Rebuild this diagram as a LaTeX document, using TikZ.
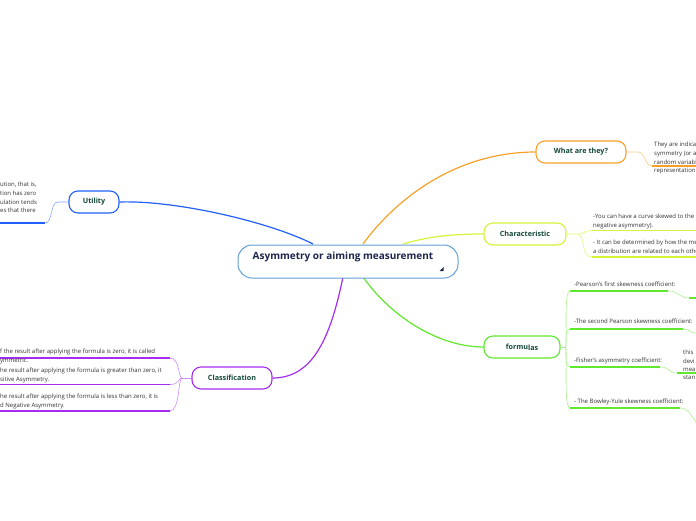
\documentclass[tikz,border=0pt]{standalone}
\usepackage{fontspec}
\setmainfont{Open Sans}
\definecolor{cblue}{RGB}{35,95,250}
\definecolor{corange}{RGB}{247,160,40}
\definecolor{cyellow}{RGB}{215,242,55}
\definecolor{cgreen}{RGB}{95,232,45}
\definecolor{cpurple}{RGB}{165,45,240}
\definecolor{ccentral}{RGB}{95,160,215}
\definecolor{labelc}{RGB}{20,72,58}
\definecolor{centralc}{RGB}{28,38,75}
\definecolor{bodyc}{RGB}{50,50,50}
\begin{document}
\begin{tikzpicture}[x=1pt,y=-1pt,
  topic/.style={rounded corners=9pt, line width=1.1pt, fill=white, inner sep=0pt,
    minimum height=22pt, font=\bfseries\fontsize{7.2}{8}\selectfont, text=labelc},
  txt/.style={font=\fontsize{6}{8.6}\selectfont, text=bodyc, align=left, anchor=north west, inner sep=0pt},
  thinline/.style={line width=0.6pt},
  thickline/.style={line width=1.6pt},
  mainline/.style={line width=1.2pt}]
\useasboundingbox (0,0) rectangle (696,520);
\clip (0,0) rectangle (696,520);

% ---------- connector start points on the central node
\coordinate (sB) at (313,244);
\coordinate (sO) at (363,244);
\coordinate (sY) at (403,244);
\coordinate (sG) at (363,277);
\coordinate (sP) at (343,277);

% ---------- topic nodes
\node[topic, draw=cblue, minimum width=50pt] (util) at (94,202) {Utility};
\node[topic, draw=corange, minimum width=90pt] (what) at (581,152) {What are they?};
\node[topic, draw=cyellow, minimum width=82pt] (char) at (525,234) {Characteristic};
\node[topic, draw=cgreen, minimum width=76pt] (form) at (522,347) {formu\raisebox{-1.2pt}{las}};
\node[topic, draw=cpurple, minimum width=80pt] (clas) at (232,378) {Classification};

\draw[mainline, cblue] (sB) .. controls (270,222) and (175,200) .. (util.east);
\draw[mainline, corange] (sO) .. controls (395,200) and (455,152) .. (what.west);
\draw[mainline, cyellow] (sY) .. controls (430,236) and (455,234) .. (char.west);
\draw[mainline, cgreen] (sG) .. controls (392,318) and (440,347) .. (form.west);
\draw[mainline, cpurple] (sP) .. controls (330,340) and (312,378) .. (clas.east);

% ---------- central node
\node[draw=ccentral, line width=1pt, fill=white, rounded corners=14pt,
  minimum width=220pt, minimum height=33pt, inner sep=0pt] (center) at (348,261.5) {};
\node[font=\bfseries\fontsize{10}{12}\selectfont, text=centralc, inner sep=0pt] (ctitle) at (343,256.5) {Asymmetry or aiming measurement};
\fill[centralc] (439.5,271) -- (443.5,271) -- (443.5,267) -- cycle;

% ---------- Utility details
\coordinate (u1) at (58,202);
\coordinate (u2) at (45,223);
\coordinate (u3) at (0,223);
\draw[thinline, cblue!55] (util.west) -- (u1) .. controls (50,202) and (53,223) .. (u2);
\draw[thickline, cblue] (u2) -- (u3);
\node[txt] (utxt) at (0,182.2) {ution, that is,\\tion has zero\\ulation tends\\es that there};

% ---------- What are they details
\coordinate (w1) at (638,152);
\coordinate (w2) at (652,166);
\coordinate (w3) at (696,166);
\draw[thinline, corange!55] (what.east) -- (w1) .. controls (646,152) and (644,166) .. (w2);
\draw[thickline, corange] (w2) -- (w3);
\node[txt] (wtxt) at (654,142.2) {They are indica\\symmetry (or a\\random variabl\\representation};

% ---------- Characteristic details
\coordinate (c0) at (578,234);
\coordinate (c1) at (592,230.5);
\coordinate (c1e) at (696,230.5);
\coordinate (c2) at (592,257);
\coordinate (c2e) at (696,257);
\draw[thinline, cyellow!70] (char.east) -- (c0) .. controls (584,234) and (585,230.5) .. (c1);
\draw[thinline, cyellow!70] (c0) .. controls (586,236) and (580,257) .. (c2);
\draw[thickline, cyellow] (c1) -- (c1e);
\draw[thickline, cyellow] (c2) -- (c2e);
\node[txt] (ctxt1) at (593,213.9) {-You can have a curve skewed to the\\negative asymmetry).};
\node[txt] (ctxt2) at (593,240.2) {- It can be determined by how the me\\a distribution are related to each othe};

% ---------- formulas details
\coordinate (f0) at (565,347);
\coordinate (fa) at (570,291);
\coordinate (fae) at (668,291);
\coordinate (faf) at (689,298);
\coordinate (fag) at (696,298);
\coordinate (fb) at (570,329);
\coordinate (fbe) at (683,329);
\coordinate (fbf) at (696,333);
\coordinate (fc) at (570,367);
\coordinate (fce) at (660,367);
\coordinate (fcf) at (677,373);
\coordinate (fcg) at (696,373);
\coordinate (fd) at (570,408);
\coordinate (fde) at (680,408);
\coordinate (fdf) at (696,422);
\draw[thinline, cgreen!55] (form.east) -- (f0);
\draw[thinline, cgreen!55] (f0) .. controls (568,347) and (563,291) .. (fa);
\draw[thinline, cgreen!55] (f0) .. controls (568,347) and (563,329) .. (fb);
\draw[thinline, cgreen!55] (f0) .. controls (568,347) and (563,367) .. (fc);
\draw[thinline, cgreen!55] (f0) .. controls (568,347) and (563,408) .. (fd);
\draw[thickline, cgreen] (fa) -- (fae);
\draw[thickline, cgreen] (fb) -- (fbe);
\draw[thickline, cgreen] (fc) -- (fce);
\draw[thickline, cgreen] (fd) -- (fde);
\draw[thinline, cgreen!55] (fae) .. controls (680,291) and (678,298) .. (faf);
\draw[thickline, cgreen] (faf) -- (fag);
\draw[thinline, cgreen!55] (fbe) .. controls (690,329) and (690,333) .. (fbf);
\draw[thinline, cgreen!55] (fce) .. controls (670,367) and (668,373) .. (fcf);
\draw[thickline, cgreen] (fcf) -- (fcg);
\draw[thinline, cgreen!55] (fde) .. controls (688,408) and (690,414) .. (fdf);
\node[txt] (ftxt1) at (574,282.2) {-Pearson's first skewness coefficient:};
\node[txt] (ftxt2) at (574,319.2) {-The second Pearson skewness coefficient:};
\node[txt] (ftxt3) at (574,358.2) {-Fisher's asymmetry coefficient:};
\node[txt] (ftxt4) at (574,399.2) {- The Bowley-Yule skewness coefficient:};
\node[txt, font=\fontsize{6}{8.3}\selectfont] (ftxt5) at (683,350.2) {this\\devi\\mea\\stan};

% ---------- Classification details
\coordinate (k0) at (182,378);
\coordinate (ka) at (170,358);
\coordinate (kb) at (170,384.5);
\coordinate (kc) at (170,411);
\draw[thinline, cpurple!55] (clas.west) -- (k0);
\draw[thinline, cpurple!55] (k0) .. controls (178,378) and (180,358) .. (ka);
\draw[thinline, cpurple!55] (k0) .. controls (178,378) and (180,384.5) .. (kb);
\draw[thinline, cpurple!55] (k0) .. controls (178,378) and (180,411) .. (kc);
\coordinate (kae) at (0,358);
\coordinate (kbe) at (0,384.5);
\coordinate (kce) at (0,411);
\draw[thickline, cpurple] (ka) -- (kae);
\draw[thickline, cpurple] (kb) -- (kbe);
\draw[thickline, cpurple] (kc) -- (kce);
\node[txt] (ktxt1) at (0,349.2) {f the result after applying the formula is zero, it is called\\ymmetric.};
\node[txt] (ktxt2) at (0,368.2) {he result after applying the formula is greater than zero, it\\sitive Asymmetry.};
\node[txt] (ktxt3) at (0,394.2) {he result after applying the formula is less than zero, it is\\d Negative Asymmetry.};
\end{tikzpicture}
\end{document}
